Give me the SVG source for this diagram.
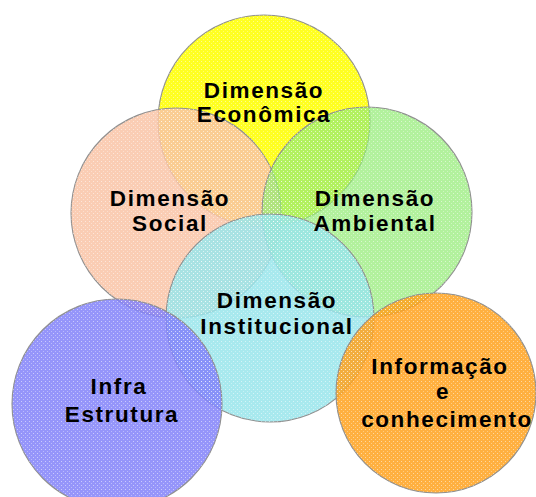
<svg xmlns="http://www.w3.org/2000/svg" width="536" height="497" viewBox="0 0 536 497">
<style>
.c{stroke:#909090;stroke-width:1.1}
.t{font-family:"Liberation Sans",Arial,sans-serif;font-weight:bold;font-size:22.5px;letter-spacing:1.6px;fill:#000;text-anchor:middle}
</style>
<defs>
<pattern id="dots" width="4" height="4" patternUnits="userSpaceOnUse">
<rect x="1" y="1" width="1" height="1" fill="#fff" fill-opacity="0.5"/>
<rect x="3" y="3" width="1" height="1" fill="#fff" fill-opacity="0.35"/>
</pattern>
</defs>
<rect width="536" height="497" fill="#fff"/>
<g id="economica"><circle class="c" cx="264" cy="121" r="106" fill="#ffff22"/></g>
<g id="social"><circle class="c" cx="176" cy="213" r="105" fill="#f9c4a7" fill-opacity="0.85"/></g>
<g id="ambiental"><circle class="c" cx="367" cy="212" r="105" fill="#94ec77" fill-opacity="0.72"/></g>
<g id="institucional"><circle class="c" cx="270" cy="318" r="104" fill="#99e5eb" fill-opacity="0.85"/></g>
<g id="infra"><circle class="c" cx="117" cy="404" r="105" fill="#8383f9" fill-opacity="0.85"/></g>
<g id="informacao"><circle class="c" cx="436" cy="393" r="100" fill="#ffa21e" fill-opacity="0.85"/></g>
<g id="texture" fill="url(#dots)">
<circle cx="264" cy="121" r="106"/>
<circle cx="176" cy="213" r="105"/>
<circle cx="367" cy="212" r="105"/>
<circle cx="270" cy="318" r="104"/>
<circle cx="117" cy="404" r="105"/>
<circle cx="436" cy="393" r="100"/>
</g>
<g id="labels">
<text class="t" x="264" y="98">Dimensão</text>
<text class="t" x="264" y="122">Econômica</text>
<text class="t" x="170" y="206">Dimensão</text>
<text class="t" x="170" y="231">Social</text>
<text class="t" x="375" y="206">Dimensão</text>
<text class="t" x="375" y="231">Ambiental</text>
<text class="t" x="277" y="308">Dimensão</text>
<text class="t" x="277" y="334">Institucional</text>
<text class="t" x="119" y="394">Infra</text>
<text class="t" x="122" y="422">Estrutura</text>
<text class="t" x="440" y="374">Informação</text>
<text class="t" x="443" y="399">e</text>
<text class="t" x="447" y="427">conhecimento</text>
</g>
</svg>
